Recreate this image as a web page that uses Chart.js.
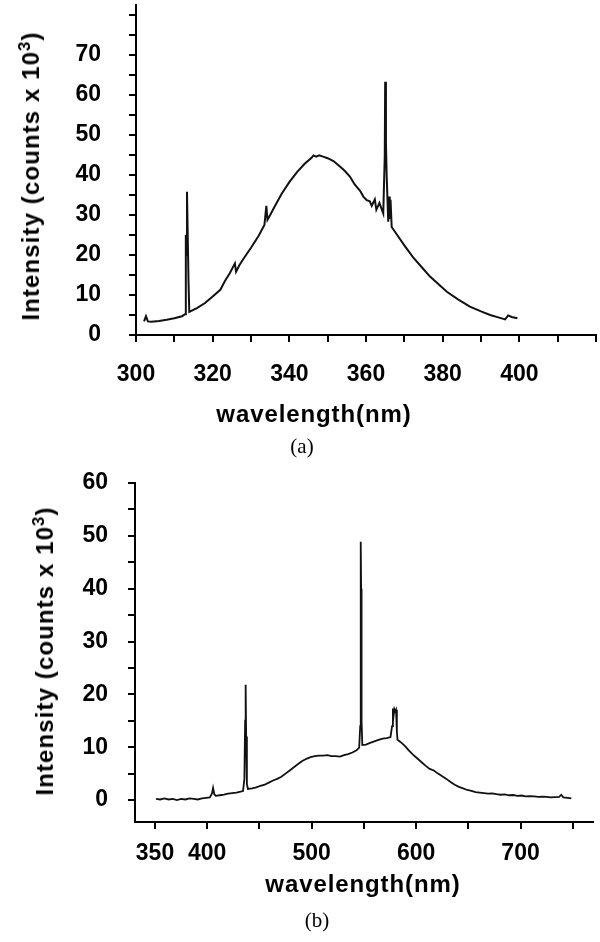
<!DOCTYPE html>
<html>
<head>
<meta charset="utf-8">
<script src="https://cdn.jsdelivr.net/npm/chart.js@4/dist/chart.umd.min.js"></script>
<style>
  html, body { margin: 0; padding: 0; background: #fff; }
  #wrap { position: relative; width: 600px; height: 942px; overflow: hidden; background: #fff; }
  canvas { position: absolute; left: 0; }
  .t { position: absolute; white-space: nowrap; color: #000; font-family: "Liberation Sans", Arial, sans-serif; font-weight: bold; transform: translate(-50%, -50%); }
  .tx { font-size: 24px; letter-spacing: 0.9px; }
  .ty { font-size: 24px; letter-spacing: 1.1px; transform: translate(-50%, -50%) rotate(-90deg); }
  .cap { font-family: "Liberation Serif", "Times New Roman", serif; font-weight: normal; font-size: 21px; }
  sup { font-size: 0.7em; vertical-align: 0.55em; line-height: 0; }
</style>
</head>
<body>
<div id="wrap">
  <canvas id="ca" width="600" height="470" style="top:0px"></canvas>
  <canvas id="cb" width="600" height="472" style="top:470px"></canvas>
  <div class="t ty" style="left:31px; top:176px;">Intensity (counts x 10<sup>3</sup>)</div>
  <div class="t tx" style="left:314px; top:414px;">wavelength(nm)</div>
  <div class="t cap" style="left:302px; top:446px;">(a)</div>
  <div class="t ty" style="left:45px; top:651px;">Intensity (counts x 10<sup>3</sup>)</div>
  <div class="t tx" style="left:363px; top:884px;">wavelength(nm)</div>
  <div class="t cap" style="left:317px; top:920px;">(b)</div>
</div>
<script>
// ---------- Panel (a) data ----------
const wavelengthA = [302.1,302.6,303.1,304,306,308,310,312,312.8,313.0,313.1,313.3,313.5,313.7,313.9,316,318,320,322,323.2,324.5,325.8,326.1,327,328,330,332,333.5,334,334.3,335,336,338,340,342,344,345.8,346.3,347,347.8,348.8,350,351.5,353.2,354.5,355.8,357,358.5,359.3,360.2,361,361.5,362.3,362.7,363.5,364.5,364.9,365.0,365.2,365.4,365.8,366.0,366.2,366.4,366.7,368,370,372.3,374.5,376.7,379,381.1,384,387.1,390,392.4,394.5,396.3,397.1,398,399.5];
const intensityA = [3.4,4.7,3.4,3.3,3.5,3.8,4.2,4.7,5.2,25,20,35.8,24.6,13.3,5.8,6.8,8.0,9.6,11.3,13.5,15.5,17.9,15.8,17.5,19,21.8,24.8,27.5,32.3,28.8,30,31.8,35.3,38.2,40.7,42.8,44.3,44.9,44.6,44.9,44.6,44.2,43.5,42.1,41,39.6,37.7,36,34.6,33.7,33.4,32.3,33.9,31.3,33,30.4,45,63.3,48,39.6,28.3,34.6,29,33.8,27,25.2,22.4,19.4,17,14.6,12.6,10.8,8.9,7.1,5.9,5.0,4.4,3.9,4.9,4.5,4.2];
const xTicksA = [300,310,320,330,340,350,360,370,380,390,400,410,420];
const xTickLabelsA = [300,320,340,360,380,400];
const yTicksA = [0,5,10,15,20,25,30,35,40,45,50,55,60,65,70,75,80];
const yTickLabelsA = [0,10,20,30,40,50,60,70];

// ---------- Panel (b) data ----------
const wavelengthB = [351,355,359,363,367,371,375,379,383,387,391,395,399,402.5,404.5,405.6,406.8,408.2,412,416,420,424,428,432,434.3,435.6,436.3,436.8,437.3,438,439,443,447,451,455,459,463,467,471,475,479,483,487,491,495,499,503,507,511,515,519,523,527,531,535,539,543,545.5,546.5,547,547.4,547.8,548.5,552,556,560,564,568,572,575.5,577,577.8,578.5,579.2,580,580.8,581.6,582.2,585,589,593,597,601,605,609,613,617,621,625,629,633,637,641,645,649,653,657,661,665,669,673,677,681,685,689,693,697,701,705,709,713,717,721,725,729,733,737,739,741,745,748.6];
const intensityB = [0.2,0.1,0.3,0.1,0.2,0.0,0.2,0.1,0.3,0.2,0.1,0.3,0.4,0.5,1.2,2.3,1.1,0.8,0.9,1.0,1.2,1.3,1.4,1.6,1.7,4,15,21.8,12,3,2.1,2.2,2.4,2.7,2.9,3.3,3.7,4.0,4.4,5.0,5.6,6.2,6.8,7.4,7.8,8.1,8.3,8.4,8.4,8.5,8.3,8.3,8.2,8.5,8.7,9.0,9.4,9.9,14,48.9,40,15,10.4,10.5,10.8,11.1,11.4,11.6,11.7,11.9,14,17.3,16,17.2,16.8,17.1,13,11.4,11,10.3,9.4,8.6,7.9,7.2,6.5,5.9,5.6,5.0,4.5,4.0,3.4,2.9,2.5,2.2,1.9,1.75,1.5,1.4,1.3,1.2,1.25,1.1,1.0,1.05,0.9,0.95,0.8,0.85,0.7,0.75,0.7,0.6,0.65,0.6,0.5,0.55,0.6,1.0,0.5,0.4,0.3];
const xTicksB = [350,400,450,500,550,600,650,700,750];
const xTickLabelsB = [350,400,500,600,700];
const yTicksB = [0,5,10,15,20,25,30,35,40,45,50,55,60];
const yTickLabelsB = [0,10,20,30,40,50,60];

function pts(xs, ys) { return xs.map((x, i) => ({ x: x, y: ys[i] })); }

function axisCommon(tickList, labelList, size, pad, fit, isX) {
  return {
    type: 'linear',
    border: { display: true, color: '#000', width: 2 },
    grid: { display: true, drawOnChartArea: false, drawTicks: true, tickLength: 7, color: '#000', lineWidth: 2 },
    afterBuildTicks: s => { s.ticks = tickList.map(v => ({ value: v })); },
    afterFit: s => {
      if (isX) s.height = fit; else s.width = fit;
      s.paddingTop = 0; s.paddingBottom = 0; s.paddingLeft = 0; s.paddingRight = 0;
    },
    ticks: {
      autoSkip: false, maxRotation: 0, minRotation: 0,
      color: '#000', padding: pad,
      font: { family: '"Liberation Sans", Arial, sans-serif', size: size, weight: 'bold' },
      callback: v => labelList.includes(v) ? String(v) : ''
    }
  };
}

function makeChart(id, data, cfg) {
  return new Chart(document.getElementById(id), {
    type: 'line',
    data: { datasets: [{ data: data, borderColor: '#111', borderWidth: cfg.lw, pointRadius: 0, tension: 0, fill: false }] },
    options: {
      responsive: false, animation: false, devicePixelRatio: 1,
      layout: { padding: cfg.padding },
      plugins: { legend: { display: false }, tooltip: { enabled: false } },
      scales: {
        x: Object.assign(axisCommon(cfg.xTicks, cfg.xLabels, 23, cfg.xPad, cfg.xFit, true), { min: cfg.xMin, max: cfg.xMax }),
        y: Object.assign(axisCommon(cfg.yTicks, cfg.yLabels, 23, cfg.yPad, cfg.yFit, false), { min: cfg.yMin, max: cfg.yMax })
      }
    }
  });
}

makeChart('ca', pts(wavelengthA, intensityA), {
  lw: 2,
  padding: { left: 0, top: 5, right: 4, bottom: 0 },
  xTicks: xTicksA, xLabels: xTickLabelsA, xMin: 300, xMax: 420, xPad: 19, xFit: 135,
  yTicks: yTicksA, yLabels: yTickLabelsA, yMin: 0, yMax: 82.5, yPad: 28, yFit: 136
});

makeChart('cb', pts(wavelengthB, intensityB), {
  lw: 1.8,
  padding: { left: 0, top: 13, right: 7, bottom: 0 },
  xTicks: xTicksB, xLabels: xTickLabelsB, xMin: 330.85, xMax: 769.4, xPad: 11, xFit: 120,
  yTicks: yTicksB, yLabels: yTickLabelsB, yMin: -4.16, yMax: 60, yPad: 20, yFit: 135
});
</script>
</body>
</html>
